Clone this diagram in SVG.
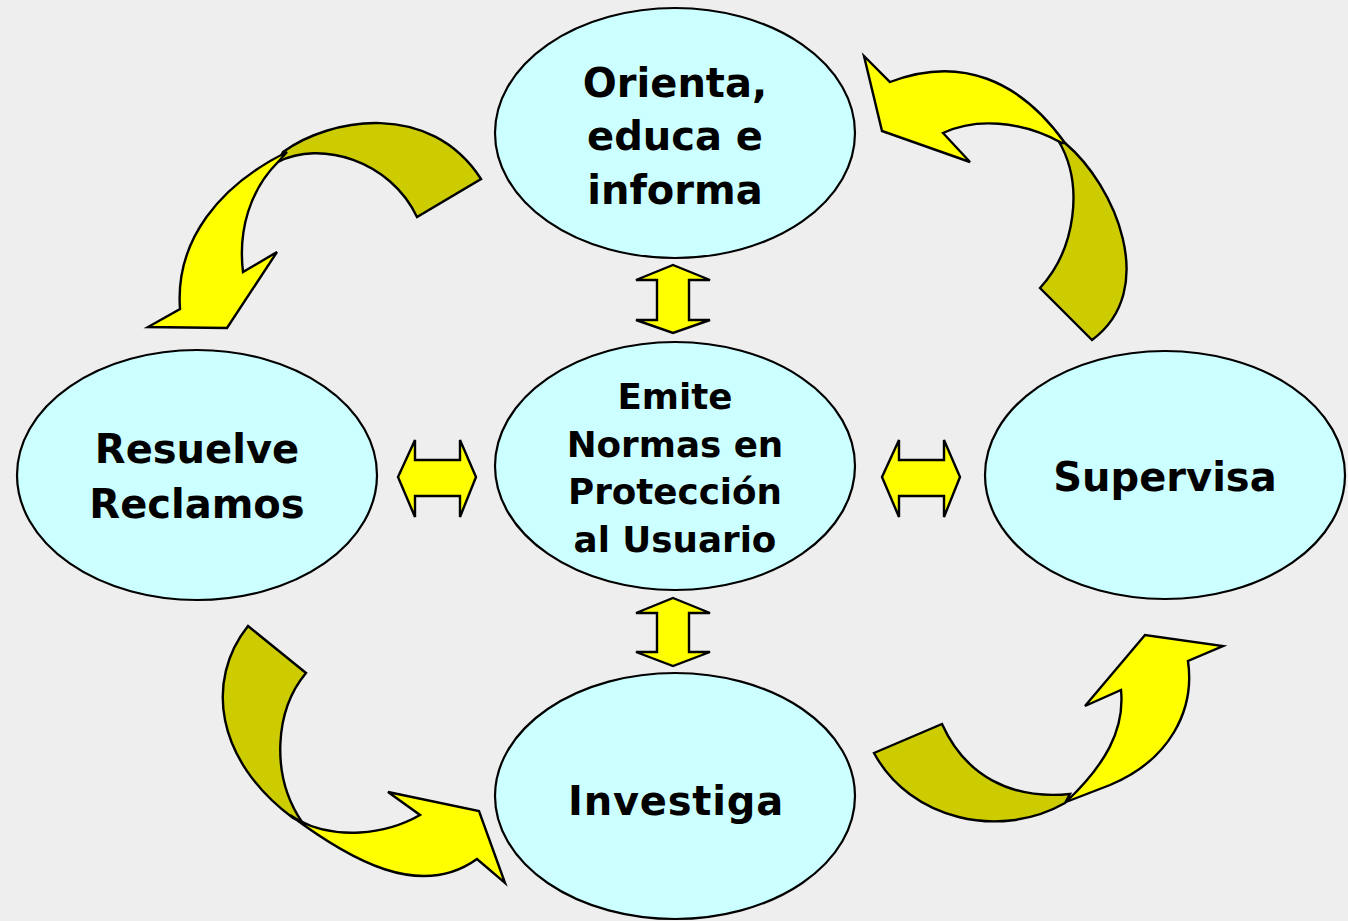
<svg xmlns="http://www.w3.org/2000/svg" width="1348" height="921" viewBox="0 0 1348 921">
<style>
.node{fill:#ccffff;stroke:#000;stroke-width:2.2}
.lbl{font-family:"DejaVu Sans","Liberation Sans",sans-serif;font-weight:bold;fill:#000;text-anchor:middle}
.big{font-size:40px}
.mid{font-size:35.7px}
.dk{fill:#cccc00;stroke:#000;stroke-width:2.4;stroke-linejoin:miter}
.yl{fill:#ffff00;stroke:#000;stroke-width:2.4;stroke-linejoin:miter}
</style>
<rect x="0" y="0" width="1348" height="921" fill="#eeeeee"/>
<g id="connectors">
  <!-- top-left curved arrow -->
  <path class="dk" d="M 283,152 C 330,118 430,100 481,179 L 417,217 C 390,160 320,140 278,162 Z"/>
  <path class="yl" d="M 287,152 C 220,185 175,240 180,309 L 148,327 L 227,328 L 277,252 L 243,272 C 238,230 250,190 278,162 Z"/>
  <!-- top-right curved arrow -->
  <path class="dk" d="M 1065,143 C 1115,185 1160,290 1092,340 L 1040,288 C 1075,250 1085,185 1058,140 Z"/>
  <path class="yl" d="M 1065,143 C 1020,80 960,55 890,82 L 864,56 L 882,131 L 970,162 L 943,133 C 975,118 1020,120 1062,143 Z"/>
  <!-- bottom-left curved arrow -->
  <path class="dk" d="M 248,626 L 306,673 C 275,710 270,775 302,822 L 293,818 C 215,760 205,680 248,626 Z"/>
  <path class="yl" d="M 290,815 C 350,860 420,900 477,859 L 505,883 L 479,811 L 388,792 L 420,815 C 385,835 335,840 298,820 Z"/>
  <!-- bottom-right curved arrow -->
  <path class="dk" d="M 874,753 L 942,724 C 965,775 1010,800 1070,794 L 1065,803 C 1000,840 910,820 874,753 Z"/>
  <path class="yl" d="M 1066,802 C 1105,765 1125,730 1121,690 L 1085,706 L 1145,635 L 1223,646 L 1188,661 C 1195,710 1170,760 1110,785 Z"/>
  <!-- double arrows -->
  <polygon class="yl" points="673,265 710,280 689,280 689,320 710,320 673,333 636,320 657,320 657,280 636,280"/>
  <polygon class="yl" points="673,598 710,613 689,613 689,652 710,652 673,666 636,652 657,652 657,613 636,613"/>
  <polygon class="yl" points="398,477 415,440 415,460 460,460 460,440 476,477 460,517 460,496 415,496 415,517"/>
  <polygon class="yl" points="882,477 899,440 899,460 944,460 944,440 960,477 944,517 944,496 899,496 899,517"/>
</g>
<g id="node-orienta">
  <ellipse class="node" cx="675" cy="133" rx="180" ry="125"/>
  <text class="lbl big" x="675" y="97">Orienta,</text>
  <text class="lbl big" x="675" y="150">educa e</text>
  <text class="lbl big" x="675" y="204">informa</text>
</g>
<g id="node-emite">
  <ellipse class="node" cx="675" cy="466" rx="180" ry="124"/>
  <text class="lbl mid" x="675" y="409">Emite</text>
  <text class="lbl mid" x="675" y="457">Normas en</text>
  <text class="lbl mid" x="675" y="504">Protección</text>
  <text class="lbl mid" x="675" y="552">al Usuario</text>
</g>
<g id="node-resuelve">
  <ellipse class="node" cx="197" cy="475" rx="180" ry="125"/>
  <text class="lbl big" x="197" y="463">Resuelve</text>
  <text class="lbl big" x="197" y="518">Reclamos</text>
</g>
<g id="node-supervisa">
  <ellipse class="node" cx="1165" cy="475" rx="180" ry="124"/>
  <text class="lbl big" x="1165" y="491">Supervisa</text>
</g>
<g id="node-investiga">
  <ellipse class="node" cx="675" cy="796" rx="180" ry="123"/>
  <text class="lbl big" x="676" y="815" letter-spacing="0.8">Investiga</text>
</g>
</svg>
